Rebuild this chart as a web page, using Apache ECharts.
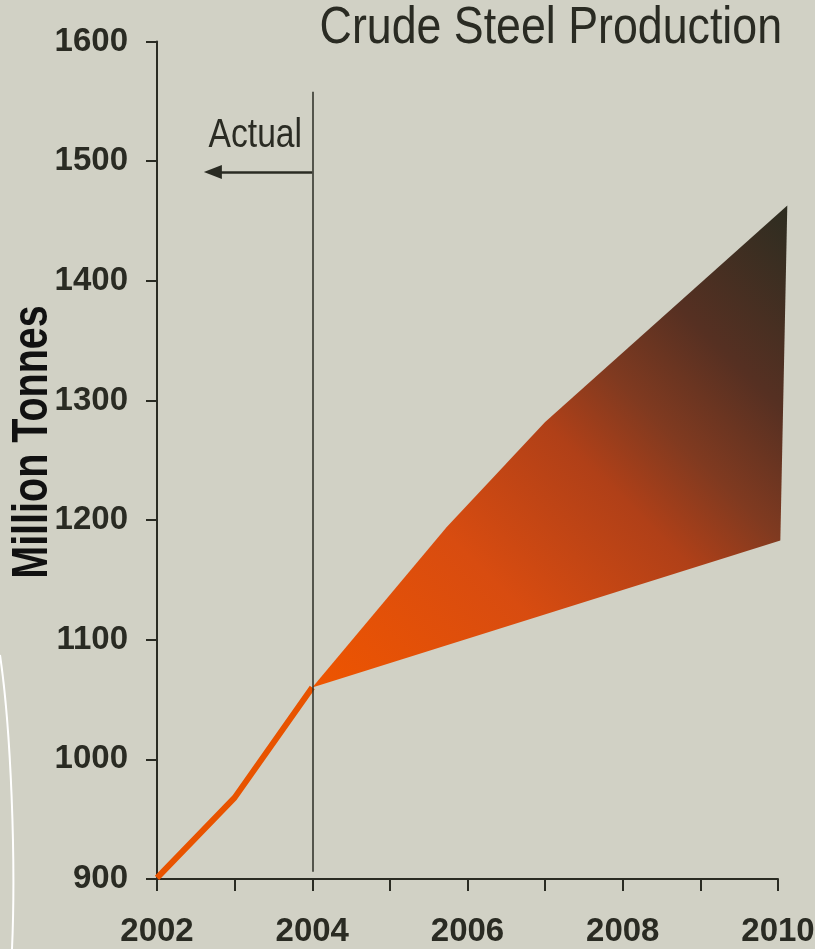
<!DOCTYPE html>
<html>
<head>
<meta charset="utf-8">
<script src="https://cdn.jsdelivr.net/npm/echarts@6/dist/echarts.min.js"></script>
<style>
  html, body { margin: 0; padding: 0; background: #d1d1c5; }
  #chart { width: 815px; height: 949px; }
</style>
</head>
<body>
<div id="chart"></div>
<script>
// actual production, million tonnes
const actualYears = [2002, 2003, 2004];
const actualValues = [901, 968, 1060];

// forecast range edges [year, value]
const upperEdge = [[2004, 1060], [2005.73, 1194], [2007, 1282], [2010.12, 1463]];
const lowerEdge = [[2004, 1060], [2010.03, 1183]];

const yTicks = [900, 1000, 1100, 1200, 1300, 1400, 1500, 1600];
const xLabels = [2002, 2004, 2006, 2008, 2010];

// "Actual" marker: divider year and arrow end
const dividerYear = 2004;
const dividerRange = [1558, 906];
const arrowLine = [[2004, 1491], [2002.72, 1491]];

const font = "'Liberation Sans', Arial, sans-serif";
const ink = "#2a2b23";

const chart = echarts.init(document.getElementById("chart"));

const fanPoints = upperEdge.concat(lowerEdge.slice().reverse());

chart.setOption({
  backgroundColor: "#d1d1c5",
  animation: false,
  grid: { left: 157, right: 37, top: 41.5, bottom: 70, containLabel: false, outerBoundsMode: "none" },
  xAxis: {
    type: "value",
    min: 2002,
    max: 2010,
    interval: 1,
    splitLine: { show: false },
    axisLine: { lineStyle: { color: ink, width: 2 } },
    axisTick: { length: 12, lineStyle: { color: ink, width: 2 } },
    axisLabel: {
      margin: 36,
      color: ink,
      fontFamily: font,
      fontSize: 33,
      fontWeight: "bold",
      formatter: v => (xLabels.indexOf(v) >= 0 ? String(v) : "")
    }
  },
  yAxis: {
    type: "value",
    min: yTicks[0],
    max: yTicks[yTicks.length - 1],
    interval: 100,
    splitLine: { show: false },
    axisLine: { show: true, lineStyle: { color: ink, width: 2 } },
    axisTick: { show: true, length: 11, lineStyle: { color: ink, width: 2 } },
    axisLabel: {
      margin: 29,
      color: ink,
      fontFamily: font,
      fontSize: 33,
      fontWeight: "bold",
      formatter: v => String(v)
    }
  },
  series: [
    {
      type: "custom",
      silent: true,
      data: [0],
      z: 2,
      renderItem: function (params, api) {
        const pts = fanPoints.map(p => api.coord(p));
        return {
          type: "polygon",
          shape: { points: pts },
          style: {
            fill: new echarts.graphic.LinearGradient(0, 1, 1, 0, [
              { offset: 0, color: "#ee5500" },
              { offset: 0.3, color: "#d84c10" },
              { offset: 0.52, color: "#b04018" },
              { offset: 0.64, color: "#803a20" },
              { offset: 0.78, color: "#563022" },
              { offset: 1, color: "#2d2d21" }
            ])
          }
        };
      }
    },
    {
      type: "line",
      data: actualYears.map((y, i) => [y, actualValues[i]]),
      symbol: "none",
      z: 3,
      lineStyle: { color: "#e85300", width: 6 },
      markLine: {
        silent: true,
        animation: false,
        label: { show: false },
        data: [
          [
            { coord: [dividerYear, dividerRange[0]], symbol: "none" },
            { coord: [dividerYear, dividerRange[1]], symbol: "none", lineStyle: { color: ink, width: 1.5, type: "solid" } }
          ],
          [
            { coord: arrowLine[0], symbol: "none" },
            { coord: arrowLine[1], symbol: "triangle", symbolSize: [14, 18], lineStyle: { color: ink, width: 2.5, type: "solid" } }
          ]
        ]
      }
    }
  ],
  graphic: [
    {
      type: "text",
      x: 782,
      y: 29,
      scaleX: 0.86,
      style: { text: "Crude Steel Production", fontFamily: font, fontSize: 52, fill: ink, align: "right", verticalAlign: "middle" }
    },
    {
      type: "text",
      x: 302,
      y: 136,
      scaleX: 0.82,
      style: { text: "Actual", fontFamily: font, fontSize: 41, fill: ink, align: "right", verticalAlign: "middle" }
    },
    {
      type: "text",
      x: 33,
      y: 442,
      rotation: Math.PI / 2,
      scaleX: 0.79,
      style: { text: "Million Tonnes", fontFamily: font, fontSize: 50, fontWeight: "bold", fill: "#111", align: "center", verticalAlign: "middle" }
    },
    {
      type: "bezierCurve",
      shape: { x1: 0, y1: 655, cpx1: 11, cpy1: 730, cpx2: 16, cpy2: 860, x2: 12, y2: 949 },
      style: { stroke: "#ffffff", lineWidth: 2, fill: null }
    }
  ]
});
</script>
</body>
</html>
